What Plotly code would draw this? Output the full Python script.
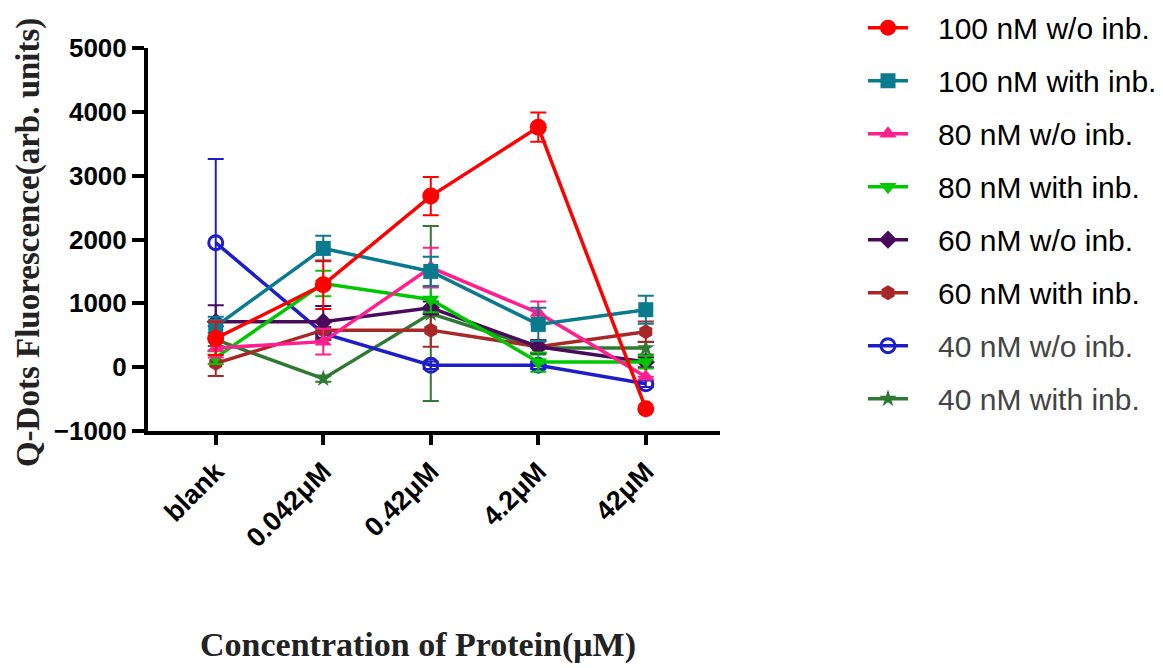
import plotly.graph_objects as go

categories = ["blank", "0.042μM", "0.42μM", "4.2μM", "42μM"]

series_names = ["100 nM w/o inb.", "100 nM with inb.", "80 nM w/o inb.", "80 nM with inb.",
                "60 nM w/o inb.", "60 nM with inb.", "40 nM w/o inb.", "40 nM with inb."]

v_100_wo = [450, 1290, 2680, 3760, -650]
e_100_wo = [260, 380, 300, 230, 0]
v_100_with = [640, 1860, 1500, 670, 900]
e_100_with = [150, 200, 230, 260, 220]
v_80_wo = [300, 400, 1560, 850, -150]
e_80_wo = [150, 200, 310, 180, 0]
v_80_with = [150, 1310, 1060, 80, 80]
e_80_with = [100, 200, 200, 150, 100]
v_60_wo = [710, 710, 930, 320, 80]
e_60_wo = [260, 250, 100, 100, 80]
v_60_with = [60, 580, 580, 320, 555]
e_60_with = [200, 150, 260, 100, 160]
v_40_wo = [1950, 530, 30, 30, -260]
e_40_wo = [1310, 100, 60, 60, 50]
v_40_with = [430, -180, 840, 300, 300]
e_40_with = [100, 50, 1370, 100, 100]

values = [v_100_wo, v_100_with, v_80_wo, v_80_with, v_60_wo, v_60_with, v_40_wo, v_40_with]
errors = [e_100_wo, e_100_with, e_80_wo, e_80_with, e_60_wo, e_60_with, e_40_wo, e_40_with]
colors = ["#FF0000", "#0A7A8E", "#FF1F8E", "#00C800", "#4A0A5C", "#A82828", "#1E1EC8", "#2E7A32"]
symbols = ["circle", "square", "triangle-up", "triangle-down", "diamond", "hexagon", "circle-open", "star"]
msizes = [17, 15, 15, 15, 14, 15, 14, 13]
text_colors = ["#000", "#000", "#000", "#000", "#000", "#000", "#444", "#444"]

fig = go.Figure()
for i in reversed(range(len(series_names))):
    fig.add_trace(go.Scatter(
        x=categories, y=values[i],
        name="<span style='color:%s'>\u00a0\u00a0\u00a0%s</span>" % (text_colors[i], series_names[i]),
        mode="lines+markers",
        line=dict(color=colors[i], width=3.5),
        marker=dict(symbol=symbols[i], size=msizes[i], color=colors[i],
                    line=dict(color=colors[i], width=3 if symbols[i] == "circle-open" else 0)),
        error_y=dict(type="data", array=errors[i], visible=True, color=colors[i], thickness=2, width=8),
        legendgroup=str(i),
        legendrank=i,
    ))

fig.update_layout(
    width=1163, height=668,
    margin=dict(l=140, r=451, t=40, b=245, autoexpand=False),
    paper_bgcolor="white", plot_bgcolor="white",
    showlegend=True,
    legend=dict(x=1.25, y=1.121, xanchor="left", yanchor="top",
                font=dict(family="Liberation Sans, Arial", size=30, color="#000"),
                tracegroupgap=11, bgcolor="rgba(0,0,0,0)", itemwidth=40, maxheight=700),
    xaxis=dict(
        type="category", categoryorder="array", categoryarray=categories,
        range=[-0.63, 4.69], showline=True, linecolor="#000", linewidth=4,
        ticks="outside", ticklen=10, tickwidth=4, tickcolor="#000",
        tickangle=-45, showgrid=False, zeroline=False, automargin=False,
        tickfont=dict(family="Liberation Sans, Arial", size=27, color="#000", weight="bold"),
    ),
    yaxis=dict(
        range=[-1000, 5000], tickvals=[-1000, 0, 1000, 2000, 3000, 4000, 5000],
        showline=True, linecolor="#000", linewidth=4,
        ticks="outside", ticklen=12, tickwidth=4, tickcolor="#000",
        showgrid=False, zeroline=False, automargin=False,
        tickfont=dict(family="Liberation Sans, Arial", size=26, color="#000", weight="bold"),
    ),
    annotations=[
        dict(text="<b>Q-Dots Fluorescence(arb. units)</b>", xref="paper", yref="paper",
             x=-0.21, y=0.493, xanchor="center", yanchor="middle", textangle=-90, showarrow=False,
             font=dict(family="Liberation Serif, Times New Roman", size=33, color="#222")),
        dict(text="<b>Concentration of Protein(μM)</b>", xref="paper", yref="paper",
             x=0.472, y=-0.56, xanchor="center", yanchor="middle", showarrow=False,
             font=dict(family="Liberation Serif, Times New Roman", size=34, color="#222")),
    ],
)

fig.write_html("out.html")
